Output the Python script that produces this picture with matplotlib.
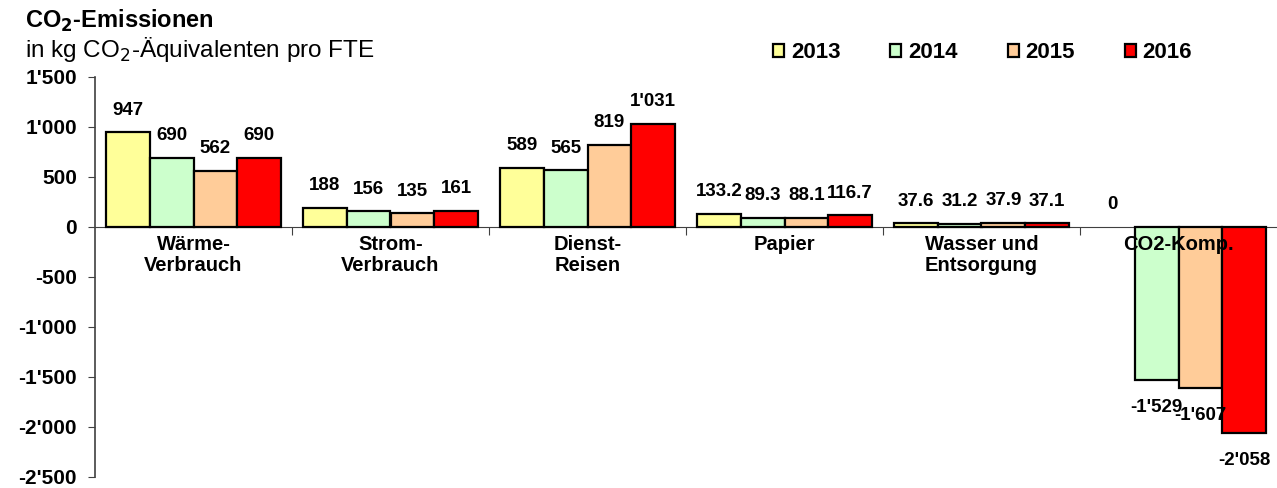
import numpy as np
import matplotlib
matplotlib.use("Agg")
import matplotlib.pyplot as plt
from matplotlib.patches import Patch
from matplotlib.ticker import FuncFormatter

plt.rcParams["font.family"] = ["Liberation Sans", "DejaVu Sans"]

# --------------------------- data ---------------------------
categories = ["Wärme-\nVerbrauch", "Strom-\nVerbrauch", "Dienst-\nReisen",
              "Papier", "Wasser und\nEntsorgung", "CO2-Komp."]
years = ["2013", "2014", "2015", "2016"]
vals_2013 = [947, 188, 589, 133.2, 37.6, 0]
vals_2014 = [690, 156, 565, 89.3, 31.2, -1529]
vals_2015 = [562, 135, 819, 88.1, 37.9, -1607]
vals_2016 = [690, 161, 1031, 116.7, 37.1, -2058]
decimals = [0, 0, 0, 1, 1, 0]
colors = ["#FFFF99", "#CCFFCC", "#FFCC99", "#FF0000"]
yticks = [1500, 1000, 500, 0, -500, -1000, -1500, -2000, -2500]


def _fmt(v, dec=0):
    s = f"{abs(v):,.{dec}f}".replace(",", "'")
    return ("-" if v < 0 else "") + s


# --------------------------- plot ---------------------------
fig = plt.figure(figsize=(12.77, 4.88), dpi=100)
ax = fig.add_axes([95 / 1277, 1 - 477 / 488, 1 - 95 / 1277, 400 / 488])

x = np.arange(len(categories))
w = 0.222
series = [vals_2013, vals_2014, vals_2015, vals_2016]
for i, (vals, col) in enumerate(zip(series, colors)):
    xs = x + (i - 1.5) * w
    lws = [1.6 if v != 0 else 0 for v in vals]
    ax.bar(xs, vals, width=w, color=col, edgecolor="black", linewidth=lws, zorder=3)
    for xi, v, d in zip(xs, vals, decimals):
        off = 16 if v >= 0 else -20
        ax.annotate(_fmt(v, d), (xi, v), xytext=(0, off), textcoords="offset points",
                    ha="center", va="center", fontsize=13.5, fontweight="bold", zorder=5)

ax.set_xlim(-0.5, len(categories) - 0.5)
ax.set_ylim(-2500, 1500)
ax.set_yticks(yticks)
ax.yaxis.set_major_formatter(FuncFormatter(lambda v, p: _fmt(v)))
for lab in ax.get_yticklabels():
    lab.set_fontweight("bold")
ax.tick_params(axis="y", labelsize=15, direction="out", length=5, color="#404040", pad=8)

ax.set_xticks(x[:-1] + 0.5)
ax.set_xticklabels([])
ax.tick_params(axis="x", direction="out", length=6, color="#404040")

ax.spines["top"].set_visible(False)
ax.spines["right"].set_visible(False)
ax.spines["bottom"].set_position(("data", 0))
ax.spines["bottom"].set_color("#404040")
ax.spines["left"].set_color("#404040")
ax.spines["left"].set_linewidth(1.2)

for xi, name in zip(x, categories):
    ax.annotate(name, (xi, 0), xytext=(0, -6), textcoords="offset points",
                ha="center", va="top", fontsize=14.5, fontweight="bold",
                linespacing=1.1, zorder=6)

# titles
fig.text(25 / 1277, 1 - 21 / 488, "CO$_\\mathbf{2}$-Emissionen", fontsize=17,
         fontweight="bold", va="center", ha="left")
fig.text(25 / 1277, 1 - 50 / 488, "in kg CO$_2$-Äquivalenten pro FTE", fontsize=17.5,
         va="center", ha="left")

handles = [Patch(facecolor=c, edgecolor="black", linewidth=1.6) for c in colors]
leg = fig.legend(handles, years, loc="center left", bbox_to_anchor=(753 / 1277, 1 - 53 / 488),
                 ncol=4, frameon=False, handlelength=0.5, handleheight=0.5,
                 handletextpad=0.3, columnspacing=2.25, prop={"size": 16, "weight": "bold"})

fig.savefig("out.png", dpi=100)
